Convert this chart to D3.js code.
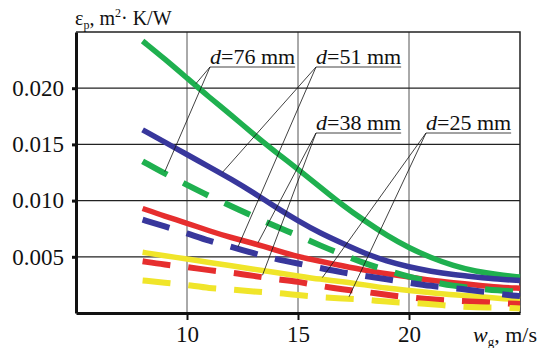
<!DOCTYPE html>
<html><head><meta charset="utf-8">
<script src="https://cdn.jsdelivr.net/npm/d3@7"></script>
<style>
body{margin:0;background:#fff}
svg{display:block}
text{font-family:"Liberation Serif","Times New Roman",serif;fill:#111}
</style>
</head><body><svg id="c" width="542" height="348"></svg>
<script>
// ---- data ----
const wg = [8,9,10,11,12,13,14,15,16,17,18,19,20,21,22,23,24,25];
const d76Solid  = [0.0242,0.0226,0.0209,0.0192,0.0176,0.0159,0.0143,0.0128,0.0112,0.0096,0.0082,0.0069,0.0058,0.0049,0.0042,0.0037,0.0034,0.0032];
const d76Dashed = [0.0135,0.0124,0.0114,0.0104,0.0095,0.0086,0.0077,0.0069,0.0060,0.0052,0.0044,0.0038,0.0032,0.0028,0.0024,0.0022,0.0020,0.0019];
const d51Solid  = [0.0163,0.0152,0.0141,0.0130,0.0119,0.0107,0.0094,0.0082,0.0071,0.0062,0.0053,0.0046,0.0041,0.0037,0.0034,0.0032,0.0030,0.0029];
const d51Dashed = [0.0083,0.0077,0.0071,0.0064,0.0059,0.0053,0.0048,0.0044,0.0040,0.0036,0.0033,0.0030,0.0027,0.0024,0.0022,0.0020,0.0017,0.0015];
const d38Solid  = [0.0093,0.0086,0.0080,0.0073,0.0067,0.0062,0.0056,0.0050,0.0046,0.0042,0.0038,0.0035,0.0032,0.0029,0.0027,0.0025,0.0023,0.0022];
const d38Dashed = [0.0046,0.0043,0.0041,0.0038,0.0036,0.0033,0.0030,0.0028,0.0024,0.0021,0.0019,0.0016,0.0014,0.0012,0.0011,0.0010,0.0009,0.0008];
const d25Solid  = [0.0054,0.0051,0.0048,0.0045,0.0042,0.0039,0.0036,0.0033,0.0030,0.0028,0.0025,0.0022,0.0020,0.0018,0.0016,0.0015,0.0013,0.0012];
const d25Dashed = [0.0029,0.0027,0.0025,0.0022,0.0021,0.0019,0.0018,0.0016,0.0014,0.0013,0.0012,0.0010,0.0009,0.0008,0.0006,0.0005,0.0005,0.0004];
const diameters = ["76","51","38","25"];
const xTicks = [10,15,20];
const yTicks = [0.005,0.010,0.015,0.020];
// leader targets (wg value on solid / dashed curve)
const leaderSolidAt  = [10.4,11.6,13.2,16.1];
const leaderDashedAt = [9.0,12.3,13.4,17.3];

// ---- layout / style ----
const colors = ["#1fb04f","#38379c","#e62e2e","#f0e52a"];
const labelPos = [[210,67],[316,67],[316,133],[426,133]];
const series = [
  {s:d76Solid,d:d76Dashed},{s:d51Solid,d:d51Dashed},
  {s:d38Solid,d:d38Dashed},{s:d25Solid,d:d25Dashed}];

const svg = d3.select("#c");
const x = d3.scaleLinear().domain([5,25]).range([76,520]);
const y = d3.scaleLinear().domain([0,0.025]).range([313,32]);

// grid
svg.append("g").selectAll("line").data(xTicks).join("line")
  .attr("x1",d=>x(d)).attr("x2",d=>x(d)).attr("y1",y(0)).attr("y2",y(0.025))
  .attr("stroke","#555").attr("stroke-width",1);
svg.append("g").selectAll("line").data(yTicks).join("line")
  .attr("x1",x(5)).attr("x2",x(25)).attr("y1",d=>y(d)).attr("y2",d=>y(d))
  .attr("stroke","#222").attr("stroke-width",1.3);
// top & right border
svg.append("path").attr("d",`M${x(5)},${y(0.025)}H${x(25)}V${y(0)}`)
  .attr("fill","none").attr("stroke","#222").attr("stroke-width",1.5);

// curves
const line = d3.line().x((d,i)=>x(wg[i])).y(d=>y(d)).curve(d3.curveBasis);
const gc = svg.append("g");
series.forEach((sr,i)=>{
  gc.append("path").attr("d",line(sr.s)).attr("fill","none")
    .attr("stroke",colors[i]).attr("stroke-width",5.5);
});
series.forEach((sr,i)=>{
  gc.append("path").attr("d",line(sr.d)).attr("fill","none")
    .attr("stroke",colors[i]).attr("stroke-width",6)
    .attr("stroke-dasharray","28,18");
});

// axes
const ya = svg.append("g").attr("transform",`translate(${x(5)},0)`)
  .call(d3.axisLeft(y).tickValues(yTicks).tickFormat(d3.format(".3f")).tickSize(4).tickPadding(8).tickSizeOuter(0));
ya.attr("font-family",null);
ya.select(".domain").attr("stroke","#111").attr("stroke-width",3);
ya.selectAll(".tick line").attr("stroke","#111").attr("stroke-width",3);
ya.selectAll(".tick text").attr("font-size",23).attr("fill","#111");

const xa = svg.append("g").attr("transform",`translate(0,${y(0)})`)
  .call(d3.axisBottom(x).tickValues(xTicks).tickSize(7).tickSizeOuter(0));
xa.attr("font-family",null);
xa.select(".domain").attr("stroke","#111").attr("stroke-width",3);
xa.selectAll(".tick line").attr("stroke","#111").attr("stroke-width",2);
xa.selectAll(".tick text").attr("font-size",23).attr("fill","#111")
  .attr("y",29).attr("dy",0);

// title
const t = svg.append("text").attr("x",75).attr("y",25).attr("font-size",20);
t.append("tspan").text("ε");
t.append("tspan").attr("font-size",12).attr("dy",4).text("p");
t.append("tspan").attr("dy",-4).text(", m");
t.append("tspan").attr("font-size",12).attr("dy",-8).text("2");
t.append("tspan").attr("dy",8).text("· K/W");

// x axis label
const xl = svg.append("text").attr("x",473).attr("y",342).attr("font-size",22);
xl.append("tspan").attr("font-style","italic").text("w");
xl.append("tspan").attr("font-size",13).attr("dy",4).text("g");
xl.append("tspan").attr("dy",-4).text(", m/s");

// annotations
function yAt(arr, v){
  const i = d3.bisectRight(wg, v) - 1;
  const t0 = (v - wg[i])/(wg[i+1]-wg[i]);
  return arr[i] + (arr[i+1]-arr[i])*t0;
}
const ga = svg.append("g");
diameters.forEach((dm,i)=>{
  const [lx,ly] = labelPos[i];
  const tx = ga.append("text").attr("x",lx).attr("y",ly-3).attr("font-size",22);
  tx.append("tspan").attr("font-style","italic").text("d");
  tx.append("tspan").text(`=${dm} mm`);
  const w = tx.node().getComputedTextLength();
  ga.append("line").attr("x1",lx).attr("x2",lx+w).attr("y1",ly).attr("y2",ly)
    .attr("stroke","#444").attr("stroke-width",1);
  const ts = leaderSolidAt[i], td = leaderDashedAt[i];
  [[ts, yAt(series[i].s, ts)],[td, yAt(series[i].d, td)]].forEach(([vx,vy])=>{
    ga.append("line").attr("x1",lx).attr("y1",ly).attr("x2",x(vx)).attr("y2",y(vy)-2)
      .attr("stroke","#111").attr("stroke-width",0.8);
  });
});
</script>
</body></html>
